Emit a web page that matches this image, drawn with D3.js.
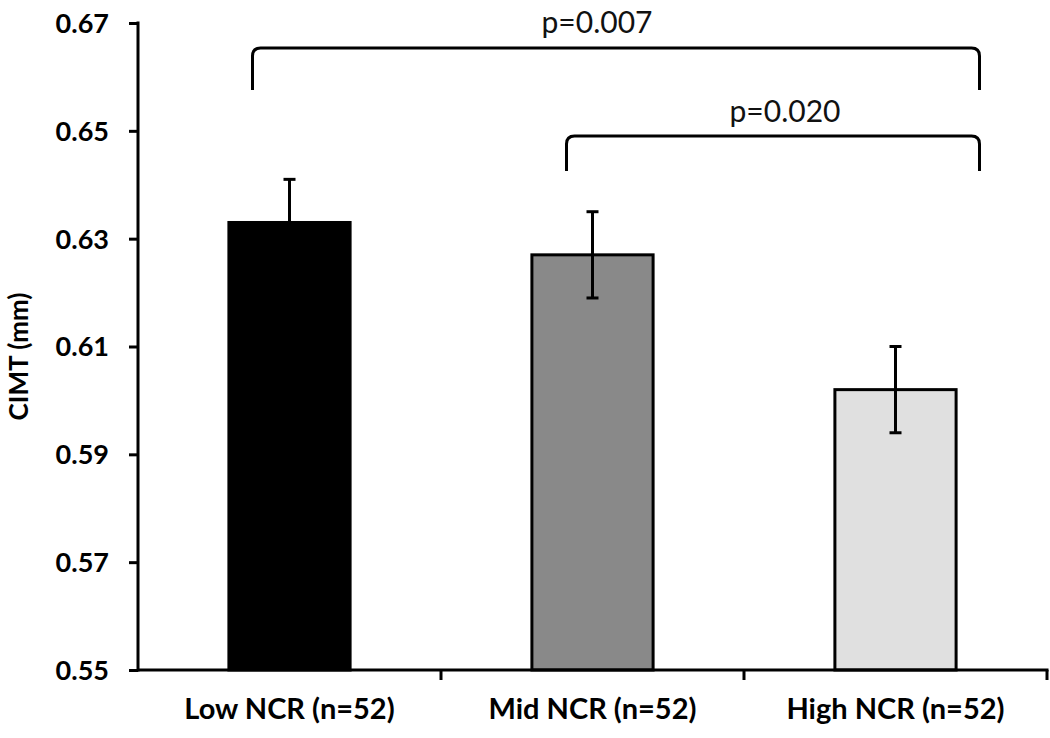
<!DOCTYPE html>
<html>
<head>
<meta charset="utf-8">
<script src="https://cdn.jsdelivr.net/npm/d3@7/dist/d3.min.js"></script>
<style>
  html, body { margin: 0; padding: 0; background: #fff; }
  svg { display: block; }
</style>
</head>
<body>
<svg id="chart" width="1050" height="738"></svg>
<script>
// ---- data ----
const categories = ["Low NCR (n=52)", "Mid NCR (n=52)", "High NCR (n=52)"];
const means = [0.633, 0.627, 0.602];
const errors = [0.008, 0.008, 0.008];
const barColors = ["#000000", "#898989", "#e0e0e0"];
const yTicks = [0.55, 0.57, 0.59, 0.61, 0.63, 0.65, 0.67];
const yLabel = "CIMT (mm)";
const comparisons = [
  { from: 0, to: 2, label: "p=0.007" },
  { from: 1, to: 2, label: "p=0.020" }
];

// ---- layout ----
(function () {
const svg = d3.select("#chart");
const pL = 138, pR = 1047, pT = 23, pB = 670;

const x = d3.scaleBand().domain(categories).range([pL, pR])
  .paddingInner(0.6).paddingOuter(0.3);
const y = d3.scaleLinear().domain([0.55, 0.67]).range([pB, pT]);

// bars
svg.append("g").selectAll("rect").data(categories).join("rect")
  .attr("x", d => x(d))
  .attr("y", (d, i) => y(means[i]))
  .attr("width", x.bandwidth())
  .attr("height", (d, i) => y(0.55) - y(means[i]))
  .attr("fill", (d, i) => barColors[i])
  .attr("stroke", "#000")
  .attr("stroke-width", 3);

// error bars
const eg = svg.append("g").attr("stroke", "#000").attr("stroke-width", 3);
categories.forEach((c, i) => {
  const cx = x(c) + x.bandwidth() / 2;
  const y1 = y(means[i] + errors[i]), y0 = y(means[i] - errors[i]);
  eg.append("line").attr("x1", cx).attr("x2", cx).attr("y1", y1).attr("y2", y0);
  eg.append("line").attr("x1", cx - 6).attr("x2", cx + 6).attr("y1", y1).attr("y2", y1);
  eg.append("line").attr("x1", cx - 6).attr("x2", cx + 6).attr("y1", y0).attr("y2", y0);
});

// y axis
const yAxis = svg.append("g").attr("transform", `translate(${pL},0)`)
  .call(d3.axisLeft(y).tickValues(yTicks).tickFormat(d3.format(".2f")).tickSize(9).tickPadding(20));
yAxis.select(".domain").attr("stroke", "#000").attr("stroke-width", 3)
  .attr("d", `M0,${pT - 1.5}V${pB + 1.5}`);
yAxis.selectAll(".tick line").attr("stroke", "#000").attr("stroke-width", 3);
yAxis.selectAll(".tick text")
  .attr("font-family", "Lato, 'Open Sans', sans-serif")
  .attr("font-weight", "bold").attr("font-size", 27).attr("fill", "#000")
  .attr("dy", "0.35em");

// x axis
const xAxis = svg.append("g").attr("transform", `translate(0,${pB})`)
  .call(d3.axisBottom(x).tickSize(0).tickPadding(28));
xAxis.select(".domain").attr("stroke", "#000").attr("stroke-width", 3)
  .attr("d", `M${pL},0H${pR + 1.5}`);
xAxis.selectAll(".tick text")
  .attr("font-family", "Lato, 'Open Sans', sans-serif")
  .attr("font-weight", "bold").attr("font-size", 29).attr("fill", "#000");
// category boundary ticks
const boundaries = d3.range(1, categories.length + 1).map(k => pL + k * x.step());
xAxis.selectAll(".bt").data(boundaries).join("line")
  .attr("class", "bt")
  .attr("x1", d => d).attr("x2", d => d)
  .attr("y1", 0).attr("y2", 10)
  .attr("stroke", "#000").attr("stroke-width", 3);

// y label
svg.append("text")
  .attr("transform", `translate(28,${(pT + pB) / 2 + 10}) rotate(-90)`)
  .attr("text-anchor", "middle")
  .attr("font-family", "Lato, 'Open Sans', sans-serif")
  .attr("font-weight", "bold").attr("font-size", 26).attr("fill", "#000")
  .text(yLabel);

// significance brackets
const center = i => x(categories[i]) + x.bandwidth() / 2;
const bracketGeom = [
  { x0: center(0) - 37, x1: center(2) + 84, yTop: 48, yBot: 90, ty: 33, tx: 597 },
  { x0: center(1) - 26, x1: center(2) + 84, yTop: 136, yBot: 171, ty: 122, tx: 785 }
];
const r = 8;
comparisons.forEach((c, k) => {
  const g = bracketGeom[k];
  const p = d3.path();
  p.moveTo(g.x0, g.yBot);
  p.lineTo(g.x0, g.yTop + r);
  p.quadraticCurveTo(g.x0, g.yTop, g.x0 + r, g.yTop);
  p.lineTo(g.x1 - r, g.yTop);
  p.quadraticCurveTo(g.x1, g.yTop, g.x1, g.yTop + r);
  p.lineTo(g.x1, g.yBot);
  svg.append("path").attr("d", p.toString())
    .attr("fill", "none").attr("stroke", "#000").attr("stroke-width", 3);
  svg.append("text")
    .attr("x", g.tx).attr("y", g.ty)
    .attr("text-anchor", "middle")
    .attr("font-family", "Lato, 'Open Sans', sans-serif")
    .attr("font-size", 30).attr("fill", "#111")
    .text(c.label);
});
})();
</script>
</body>
</html>
